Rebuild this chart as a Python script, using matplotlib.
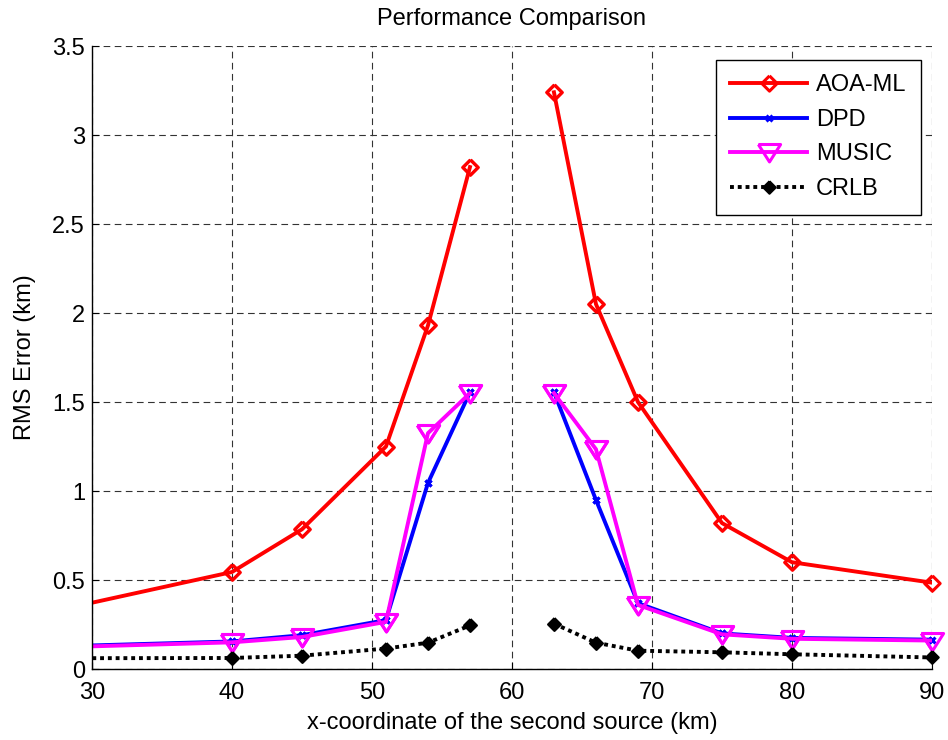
import numpy as np
import matplotlib
matplotlib.use("Agg")
import matplotlib.pyplot as plt

plt.rcParams['font.family'] = ['Liberation Sans', 'DejaVu Sans']

# x-coordinate of the second source (km); NaN splits the curves around 60 km
x_km = [20, 40, 45, 51, 54, 57, 60, 63, 66, 69, 75, 80, 90]

aoa_ml = [0.20, 0.545, 0.785, 1.25, 1.93, 2.82, np.nan, 3.24, 2.05, 1.50, 0.82, 0.60, 0.485]
dpd    = [0.11, 0.155, 0.19, 0.275, 1.045, 1.555, np.nan, 1.555, 0.95, 0.37, 0.20, 0.175, 0.165]
music  = [0.105, 0.15, 0.18, 0.265, 1.325, 1.55, np.nan, 1.55, 1.235, 0.36, 0.195, 0.17, 0.16]
crlb   = [0.06, 0.062, 0.075, 0.115, 0.148, 0.245, np.nan, 0.255, 0.148, 0.103, 0.094, 0.083, 0.065]

series_labels = ['AOA-ML', 'DPD', 'MUSIC', 'CRLB']
x_ticks = [30, 40, 50, 60, 70, 80, 90]
y_ticks = [0, 0.5, 1, 1.5, 2, 2.5, 3, 3.5]
y_tick_labels = ['0', '0.5', '1', '1.5', '2', '2.5', '3', '3.5']

# marker shapes
diamond = [(0, 1), (1, 0), (0, -1), (-1, 0), (0, 1)]
tri_down = [(-1, 0.72), (1, 0.72), (0, -0.85), (-1, 0.72)]

fs = 17

fig = plt.figure(figsize=(9.48, 7.40), dpi=100)
ax = fig.add_axes([0.0970, 0.0959, 0.8861, 0.8419])
ax.set_xlim(30, 90)
ax.set_ylim(0, 3.5)

lw = 2.8
styles = [
    (aoa_ml, dict(color='#ff0000', lw=lw, marker=diamond, ms=11, mfc='none',
                  mec='#ff0000', mew=2.2)),
    (dpd, dict(color='#0000ff', lw=lw, marker='x', ms=5, mec='#0000ff', mew=2.2)),
    (music, dict(color='#ff00ff', lw=lw, marker=tri_down, ms=16, mfc='none',
                 mec='#ff00ff', mew=2.2)),
    (crlb, dict(color='black', lw=lw, linestyle=(0, (1, 1)), marker=diamond,
                ms=9, mfc='black', mec='black', mew=1.5)),
]

# lines are clipped to the axes, markers inside the x-range are drawn unclipped
x_arr = np.asarray(x_km, dtype=float)
inside = x_arr >= 30
for (vals, st), lab in zip(styles, series_labels):
    ax.plot(x_km, vals, label=lab, markevery=list(np.where(inside)[0]), **st)
    mk = {k: v for k, v in st.items() if k not in ('lw', 'linestyle')}
    ax.plot(x_arr[inside], np.asarray(vals)[inside], linestyle='none',
            clip_on=False, **mk)

ax.set_xticks(x_ticks)
ax.set_yticks(y_ticks)
ax.set_yticklabels(y_tick_labels)

ax.grid(True, color='0.2', linestyle=(0, (6, 4)), linewidth=0.8)
for side in ('top', 'right'):
    ax.spines[side].set_visible(False)
for side in ('left', 'bottom'):
    ax.spines[side].set_linewidth(1.0)
ax.tick_params(direction='in', length=5, width=0.8, labelsize=fs)
ax.tick_params(axis='x', pad=9)
ax.tick_params(axis='y', pad=5)

ax.set_title('Performance Comparison', fontsize=fs, pad=15)
ax.set_xlabel('x-coordinate of the second source (km)', fontsize=fs, labelpad=6)
ax.set_ylabel('RMS Error (km)', fontsize=fs, labelpad=12)

leg = ax.legend(loc='upper right', bbox_to_anchor=(0.987, 0.978),
                borderaxespad=0, fontsize=fs, numpoints=1, handlelength=3.25,
                handletextpad=0.38, labelspacing=0.53, borderpad=0.62,
                fancybox=False, framealpha=1, edgecolor='black')
leg.get_frame().set_linewidth(1.0)

fig.savefig('out.png', dpi=100)
